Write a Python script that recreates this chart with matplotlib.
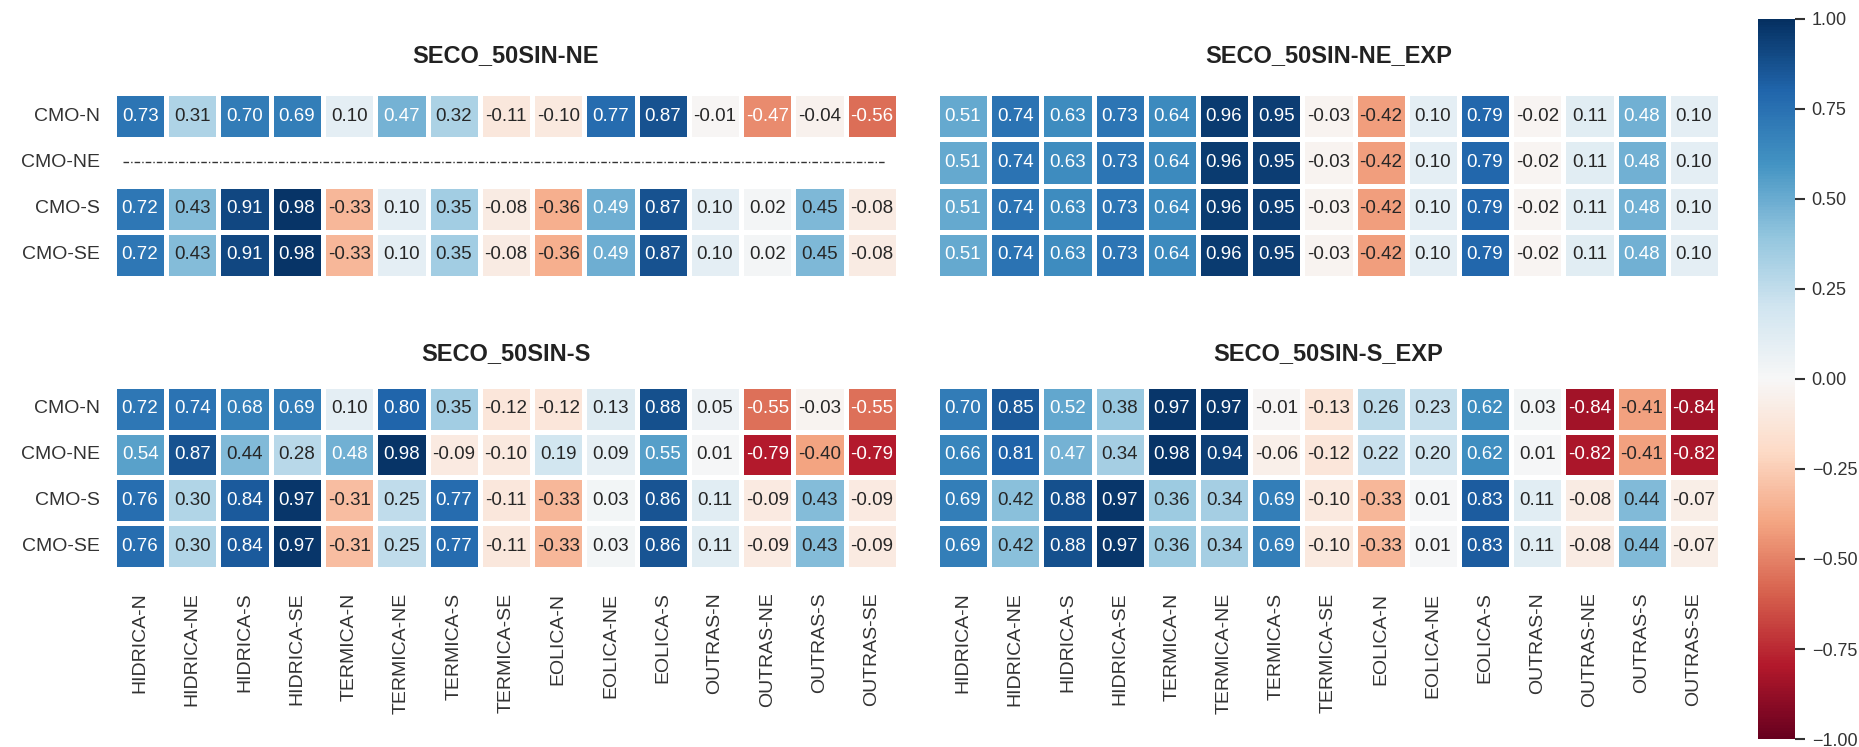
import numpy as np
import matplotlib
matplotlib.use("Agg")
import matplotlib.pyplot as plt
import seaborn as sns
from matplotlib.cm import ScalarMappable
from matplotlib.colors import Normalize

sns.set_style("white")
plt.rcParams['font.family'] = ['Liberation Sans', 'DejaVu Sans']

# Generation sources (columns) and marginal-cost subsystems (rows)
sources = ["HIDRICA-N", "HIDRICA-NE", "HIDRICA-S", "HIDRICA-SE",
           "TERMICA-N", "TERMICA-NE", "TERMICA-S", "TERMICA-SE",
           "EOLICA-N", "EOLICA-NE", "EOLICA-S",
           "OUTRAS-N", "OUTRAS-NE", "OUTRAS-S", "OUTRAS-SE"]
cmo_rows = ["CMO-N", "CMO-NE", "CMO-S", "CMO-SE"]

nan = np.nan

# SECO_50SIN-NE (CMO-NE has no correlation values)
seco_ne = [
    [0.73, 0.31, 0.70, 0.69, 0.10, 0.47, 0.32, -0.11, -0.10, 0.77, 0.87, -0.01, -0.47, -0.04, -0.56],
    [nan] * 15,
    [0.72, 0.43, 0.91, 0.98, -0.33, 0.10, 0.35, -0.08, -0.36, 0.49, 0.87, 0.10, 0.02, 0.45, -0.08],
    [0.72, 0.43, 0.91, 0.98, -0.33, 0.10, 0.35, -0.08, -0.36, 0.49, 0.87, 0.10, 0.02, 0.45, -0.08],
]

# SECO_50SIN-NE_EXP
seco_ne_exp = [
    [0.51, 0.74, 0.63, 0.73, 0.64, 0.96, 0.95, -0.03, -0.42, 0.10, 0.79, -0.02, 0.11, 0.48, 0.10],
    [0.51, 0.74, 0.63, 0.73, 0.64, 0.96, 0.95, -0.03, -0.42, 0.10, 0.79, -0.02, 0.11, 0.48, 0.10],
    [0.51, 0.74, 0.63, 0.73, 0.64, 0.96, 0.95, -0.03, -0.42, 0.10, 0.79, -0.02, 0.11, 0.48, 0.10],
    [0.51, 0.74, 0.63, 0.73, 0.64, 0.96, 0.95, -0.03, -0.42, 0.10, 0.79, -0.02, 0.11, 0.48, 0.10],
]

# SECO_50SIN-S
seco_s = [
    [0.72, 0.74, 0.68, 0.69, 0.10, 0.80, 0.35, -0.12, -0.12, 0.13, 0.88, 0.05, -0.55, -0.03, -0.55],
    [0.54, 0.87, 0.44, 0.28, 0.48, 0.98, -0.09, -0.10, 0.19, 0.09, 0.55, 0.01, -0.79, -0.40, -0.79],
    [0.76, 0.30, 0.84, 0.97, -0.31, 0.25, 0.77, -0.11, -0.33, 0.03, 0.86, 0.11, -0.09, 0.43, -0.09],
    [0.76, 0.30, 0.84, 0.97, -0.31, 0.25, 0.77, -0.11, -0.33, 0.03, 0.86, 0.11, -0.09, 0.43, -0.09],
]

# SECO_50SIN-S_EXP
seco_s_exp = [
    [0.70, 0.85, 0.52, 0.38, 0.97, 0.97, -0.01, -0.13, 0.26, 0.23, 0.62, 0.03, -0.84, -0.41, -0.84],
    [0.66, 0.81, 0.47, 0.34, 0.98, 0.94, -0.06, -0.12, 0.22, 0.20, 0.62, 0.01, -0.82, -0.41, -0.82],
    [0.69, 0.42, 0.88, 0.97, 0.36, 0.34, 0.69, -0.10, -0.33, 0.01, 0.83, 0.11, -0.08, 0.44, -0.07],
    [0.69, 0.42, 0.88, 0.97, 0.36, 0.34, 0.69, -0.10, -0.33, 0.01, 0.83, 0.11, -0.08, 0.44, -0.07],
]

panels = [
    ("SECO_50SIN-NE", seco_ne, [0.0613, 0.6278, 0.4217, 0.2477], True, False, 22),
    ("SECO_50SIN-NE_EXP", seco_ne_exp, [0.5040, 0.6278, 0.4212, 0.2477], False, False, 22),
    ("SECO_50SIN-S", seco_s, [0.0613, 0.2383, 0.4217, 0.2450], True, True, 19),
    ("SECO_50SIN-S_EXP", seco_s_exp, [0.5040, 0.2383, 0.4212, 0.2450], False, True, 19),
]

cmap = "RdBu"
norm = Normalize(vmin=-1, vmax=1)

fig = plt.figure(figsize=(18.59, 7.47), dpi=100)
fig.patch.set_facecolor("white")

for title, values, rect, show_rows, show_cols, tpad in panels:
    ax = fig.add_axes(rect)
    data = np.array(values, dtype=float)
    sns.heatmap(data, ax=ax, cmap=cmap, vmin=-1, vmax=1, cbar=False,
                annot=True, fmt=".2f", annot_kws={"size": 13.5},
                linewidths=2.5, linecolor="white",
                xticklabels=sources if show_cols else False,
                yticklabels=cmo_rows if show_rows else False)
    ax.set_title(title, fontsize=17, fontweight="bold", color="#222222", pad=tpad)
    ax.tick_params(axis="both", length=0, labelsize=14, colors="#333333")
    ax.tick_params(axis="y", pad=10)
    ax.tick_params(axis="x", pad=17)
    if show_rows:
        plt.setp(ax.get_yticklabels(), rotation=0)
    if show_cols:
        plt.setp(ax.get_xticklabels(), rotation=90)
    # empty CMO-NE row is marked by a dash-dot rule
    empty_rows = np.where(np.all(np.isnan(data), axis=1))[0]
    for r in empty_rows:
        ax.axhline(r + 0.5, xmin=0.011, xmax=0.985, color="#333333",
                   linewidth=1.0, linestyle=(0, (4, 1.5, 1, 1.5)))

cax = fig.add_axes([0.9457, 0.0107, 0.0199, 0.9639])
cb = fig.colorbar(ScalarMappable(norm=norm, cmap=cmap), cax=cax,
                  ticks=[1.0, 0.75, 0.5, 0.25, 0.0, -0.25, -0.5, -0.75, -1.0])
cb.outline.set_visible(False)
cax.tick_params(length=7, width=1.5, labelsize=13, pad=5, colors="#333333")

fig.savefig("out.png", dpi=100, facecolor="white")
